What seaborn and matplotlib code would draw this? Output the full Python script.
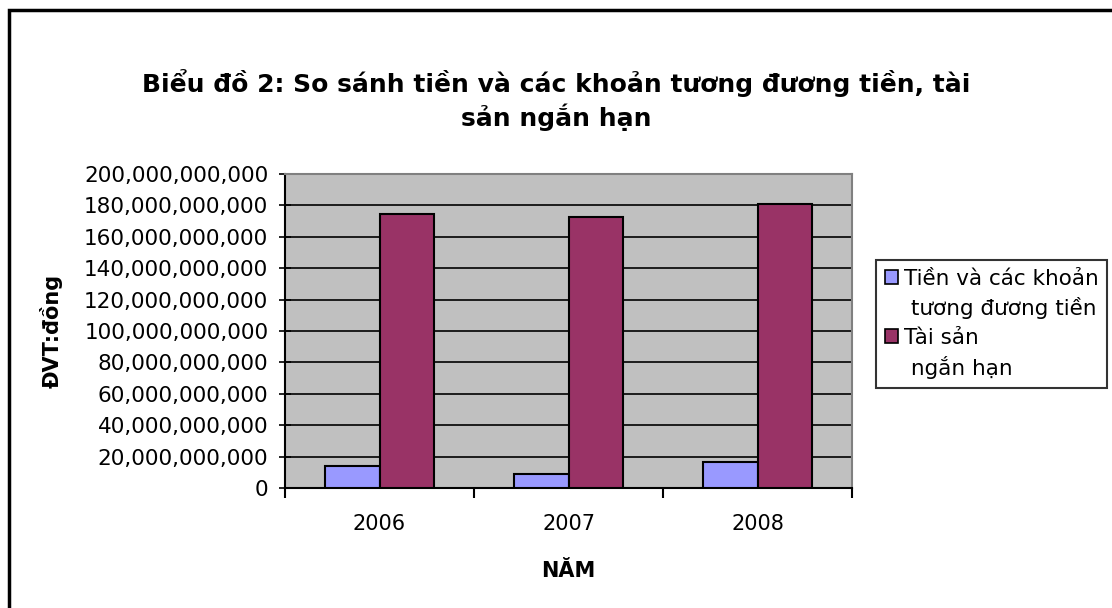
import matplotlib
matplotlib.use("Agg")
import matplotlib.pyplot as plt
import matplotlib.ticker as mticker
from matplotlib.patches import Rectangle, Patch
import numpy as np
import pandas as pd
import seaborn as sns

# data (VND)
years = ["2006", "2007", "2008"]
tien = [14.2e9, 9.1e9, 16.3e9]
ts_ngan_han = [174.3e9, 172.9e9, 180.7e9]
series_names = ["Tiền và các khoản tương đương tiền", "Tài sản ngắn hạn"]
y_ticks = list(range(0, 200000000001, 20000000000))

df = pd.DataFrame({
    "year": years * 2,
    "value": tien + ts_ngan_han,
    "series": [series_names[0]] * 3 + [series_names[1]] * 3,
})

sns.set_style("white")
plt.rcParams["font.family"] = ["DejaVu Sans"]
plt.rcParams["text.color"] = "black"
plt.rcParams["xtick.color"] = "black"
plt.rcParams["ytick.color"] = "black"
plt.rcParams["axes.labelcolor"] = "black"

fig = plt.figure(figsize=(11.12, 6.08), dpi=100)
ax = fig.add_axes([285 / 1112, 1 - 488 / 608, 567 / 1112, 314 / 608])

pal = ["#9999FF", "#993366"]
sns.barplot(data=df, x="year", y="value", hue="series", palette=pal,
            saturation=1, width=0.58, gap=0, edgecolor="black", linewidth=1.5,
            legend=False, ax=ax, zorder=3)

ax.set_facecolor("#C0C0C0")
ax.set_ylim(0, 200e9)
ax.set_xlim(-0.5, 2.5)
ax.set_yticks(y_ticks)
ax.yaxis.set_major_formatter(mticker.FuncFormatter(lambda v, p: f"{v:,.0f}"))
ax.grid(axis="y", color="black", linewidth=1.2, zorder=1)
ax.set_axisbelow(True)

for s in ["top", "right"]:
    ax.spines[s].set_color("#808080")
    ax.spines[s].set_linewidth(1.5)
for s in ["left", "bottom"]:
    ax.spines[s].set_color("black")
    ax.spines[s].set_linewidth(1.5)

ax.tick_params(axis="y", direction="inout", length=8, width=1.2, pad=8,
               labelsize=15.5, left=True)
ax.tick_params(axis="x", which="major", length=0, pad=19, labelsize=15)
ax.set_xticks([-0.5, 0.5, 1.5, 2.5], minor=True)
ax.tick_params(axis="x", which="minor", direction="out", length=7, width=1.5,
               bottom=True)

ax.set_xlabel("NĂM", fontsize=15, fontweight="bold", labelpad=19)
ax.set_ylabel("")
fig.text(51 / 1112, 1 - 331 / 608, "ĐVT:đồng", rotation=90, fontsize=15,
         fontweight="bold", ha="center", va="center")

fig.text(0.5, 1 - 100 / 608,
         "Biểu đồ 2: So sánh tiền và các khoản tương đương tiền, tài\nsản ngắn hạn",
         ha="center", va="center", fontsize=18, fontweight="bold",
         linespacing=1.3)

handles = [Patch(facecolor=pal[0], edgecolor="black", linewidth=1.2),
           Patch(alpha=0),
           Patch(facecolor=pal[1], edgecolor="black", linewidth=1.2),
           Patch(alpha=0)]
labels = ["Tiền và các khoản", " tương đương tiền", "Tài sản", " ngắn hạn"]
leg = fig.legend(handles, labels, loc="upper left",
                 bbox_to_anchor=(876 / 1112, 1 - 260 / 608),
                 fontsize=15.5, frameon=True, fancybox=False,
                 edgecolor="black", handlelength=0.6, handleheight=0.6,
                 handletextpad=0.3, labelspacing=0.4, borderpad=0.4,
                 borderaxespad=0)
leg.get_frame().set_linewidth(1.5)

fig.patches.append(Rectangle((9 / 1112, -0.1), 1.2, 1.1 - 10 / 608,
                             transform=fig.transFigure, fill=False,
                             edgecolor="black", linewidth=2.5))

fig.savefig("out.png", dpi=100)
